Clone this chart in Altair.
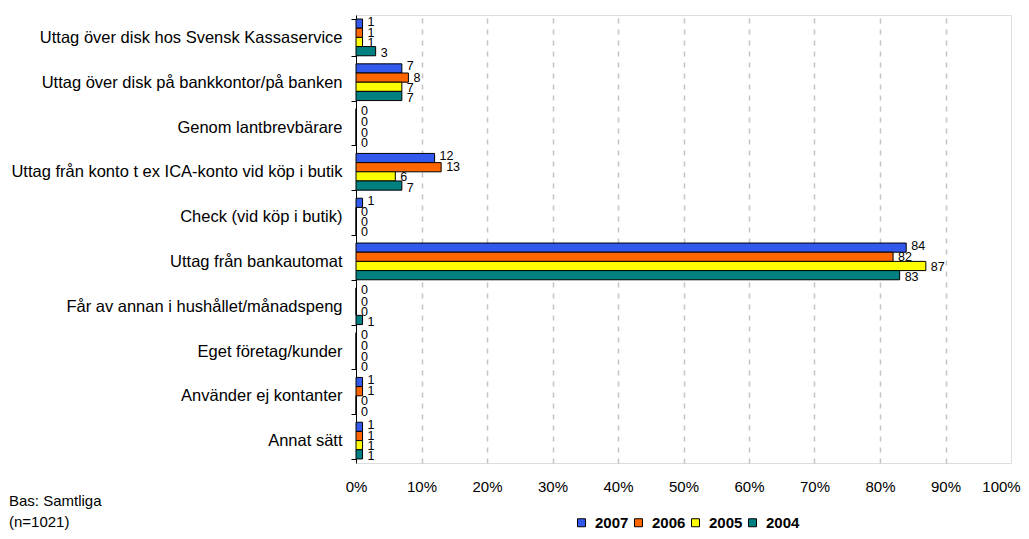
import altair as alt
import pandas as pd

categories = [
    "Uttag över disk hos Svensk Kassaservice",
    "Uttag över disk på bankkontor/på banken",
    "Genom lantbrevbärare",
    "Uttag från konto t ex ICA-konto vid köp i butik",
    "Check (vid köp i butik)",
    "Uttag från bankautomat",
    "Får av annan i hushållet/månadspeng",
    "Eget företag/kunder",
    "Använder ej kontanter",
    "Annat sätt",
]
years = ["2007", "2006", "2005", "2004"]
v2007 = [1, 7, 0, 12, 1, 84, 0, 0, 1, 1]
v2006 = [1, 8, 0, 13, 0, 82, 0, 0, 1, 1]
v2005 = [1, 7, 0, 6, 0, 87, 0, 0, 0, 1]
v2004 = [3, 7, 0, 7, 0, 83, 1, 0, 0, 1]
colors = ["#3358EC", "#FF6600", "#FFFF00", "#008080"]
x_ticks = [0, 10, 20, 30, 40, 50, 60, 70, 80, 90, 100]
note_lines = ["Bas: Samtliga", "(n=1021)"]

series = {"2007": v2007, "2006": v2006, "2005": v2005, "2004": v2004}
rows = []
for y in years:
    for c, v in zip(categories, series[y]):
        rows.append({"cat": c, "year": y, "value": v})
df = pd.DataFrame(rows)

FONT = "Liberation Sans"

y_enc = alt.Y(
    "cat:N",
    sort=categories,
    scale=alt.Scale(paddingInner=0.18, paddingOuter=0.09),
    axis=alt.Axis(
        title=None, labelFontSize=16.5, labelFont=FONT, labelColor="black",
        tickBand="extent", tickSize=5, tickColor="black", tickWidth=1,
        domainColor="black", labelPadding=9, labelLimit=400, grid=False,
    ),
)
yoff = alt.YOffset("year:N", sort=years, scale=alt.Scale(paddingInner=0, paddingOuter=0))
x_enc = alt.X(
    "value:Q",
    scale=alt.Scale(domain=[0, 100], nice=False),
    axis=alt.Axis(
        title=None, values=x_ticks, labelExpr="datum.value + '%'",
        labelFontSize=15, labelFont=FONT, labelColor="black",
        labelFlush=False,
        labelOffset={"condition": {"test": "datum.value >= 100", "value": -10}, "value": 0},
        ticks=False, domain=False, labelPadding=16,
        grid=True, gridColor="#c4c4c4", gridDash=[5, 6], gridWidth=1.5,
        gridOpacity={"condition": {"test": "datum.value <= 0 || datum.value >= 100", "value": 0}, "value": 1},
    ),
)

base = alt.Chart(df)

bars = base.mark_bar(stroke="black", strokeWidth=1).encode(
    y=y_enc,
    yOffset=yoff,
    x=x_enc,
    color=alt.Color(
        "year:N",
        sort=years,
        scale=alt.Scale(domain=years, range=colors),
        legend=alt.Legend(
            orient="none", legendX=218, legendY=500, direction="horizontal",
            title=None, symbolType="square", symbolSize=64,
            symbolStrokeColor="black", symbolStrokeWidth=1,
            labelFont=FONT, labelFontSize=15, labelFontWeight="bold",
            labelColor="black", columnPadding=2, labelOffset=6,
        ),
    ),
)

dys = {"2007": -2, "2006": 0, "2005": 1, "2004": 2}
text_layers = []
for y in years:
    t = base.transform_filter(alt.datum.year == y).mark_text(
        align="left", baseline="middle", dx=5, dy=dys[y],
        font=FONT, fontSize=12.5, color="black",
    ).encode(y=y_enc, yOffset=yoff, x=x_enc, text="value:Q")
    text_layers.append(t)

note = alt.Chart(pd.DataFrame({"t": ["\n".join(note_lines)]})).mark_text(
    align="left", baseline="middle", font=FONT, fontSize=15, color="black",
    lineBreak="\n", lineHeight=21,
).encode(x=alt.value(-347), y=alt.value(486), text="t:N")

chart = alt.layer(bars, *text_layers, note).properties(
    width=655, height=448,
    autosize=alt.AutoSizeParams(type="none"),
    padding={"left": 348, "top": 7, "right": 10, "bottom": 68},
).configure_view(stroke="black", strokeWidth=1).configure(background="white")

chart.save("out.html", embed_options={"renderer": "svg", "actions": False})
